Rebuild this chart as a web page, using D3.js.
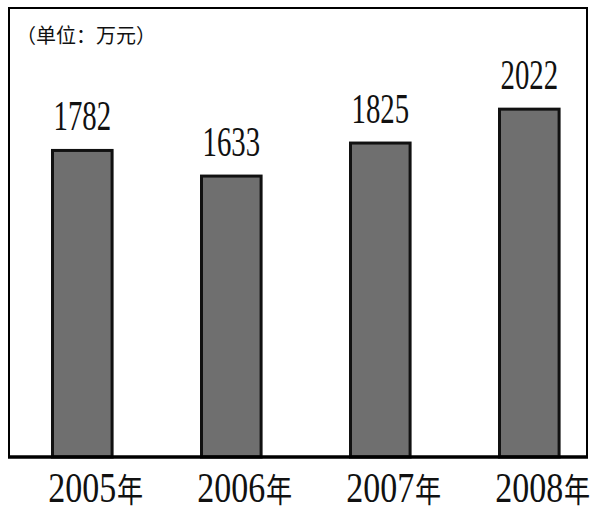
<!DOCTYPE html>
<html><head><meta charset="utf-8">
<script src="https://cdn.jsdelivr.net/npm/d3@7"></script>
<style>body{margin:0;background:#fff}</style>
</head><body>
<svg id="c" width="600" height="517"></svg>
<script>
const years = ["2005", "2006", "2007", "2008"];
const yearSuffix = "年";
const values = [1782, 1633, 1825, 2022];
const unitLabel = "（单位：万元）";

const svg = d3.select("#c");
const frame = {l: 9, t: 8, r: 587, b: 457};

const x = d3.scaleBand().domain(years).range([22.7, 588.9]).paddingInner(0.6).paddingOuter(0.2);
const y = d3.scaleLinear().domain([0, 2610]).range([frame.b, frame.t]);

// frame
svg.append("path")
  .attr("d", `M${frame.l},${frame.b} L${frame.l},${frame.t} L${frame.r},${frame.t} L${frame.r},${frame.b}`)
  .attr("fill", "none").attr("stroke", "#000").attr("stroke-width", 2);

// bars
svg.selectAll("rect.bar").data(values).join("rect")
  .attr("class", "bar")
  .attr("x", (d, i) => x(years[i]))
  .attr("y", d => y(d))
  .attr("width", x.bandwidth())
  .attr("height", d => y(0) - y(d))
  .attr("fill", "#6f6f6f").attr("stroke", "#111").attr("stroke-width", 3);

// baseline axis
const axis = d3.axisBottom(x).tickSize(0).tickFormat("");
const ag = svg.append("g").attr("transform", `translate(0,${frame.b})`).call(axis);
ag.select(".domain").attr("d", `M${frame.l - 1},0H${frame.r + 1}`).attr("stroke", "#000").attr("stroke-width", 3.5);

// value labels
svg.selectAll("text.val").data(values).join("text")
  .attr("class", "val")
  .attr("transform", (d, i) => `translate(${x(years[i]) + x.bandwidth() / 2},${y(d) - 20}) scale(0.67,1)`)
  .attr("text-anchor", "middle")
  .attr("font-family", "Liberation Serif, serif")
  .attr("font-size", 43)
  .attr("fill", "#111")
  .text(d => d);

// year labels
years.forEach((yr, i) => {
  const cx = x(yr) + x.bandwidth() / 2;
  const t = svg.append("text")
    .attr("transform", `translate(${cx},502) scale(0.79,1)`)
    .attr("font-family", "Liberation Serif, serif")
    .attr("font-size", 43)
    .attr("fill", "#111");
  t.append("tspan").text(yr);
  t.append("tspan").attr("font-family", "Noto Sans CJK SC").attr("font-size", 33).attr("dx", 1).text(yearSuffix);
  const w = t.node().getSubStringLength(0, yr.length);
  t.attr("x", -w / 2);
});

// unit label
svg.append("text")
  .attr("x", 16).attr("y", 43)
  .attr("font-family", "Noto Sans CJK SC")
  .attr("font-size", 20)
  .attr("fill", "#111")
  .text(unitLabel);
</script>
</body></html>
